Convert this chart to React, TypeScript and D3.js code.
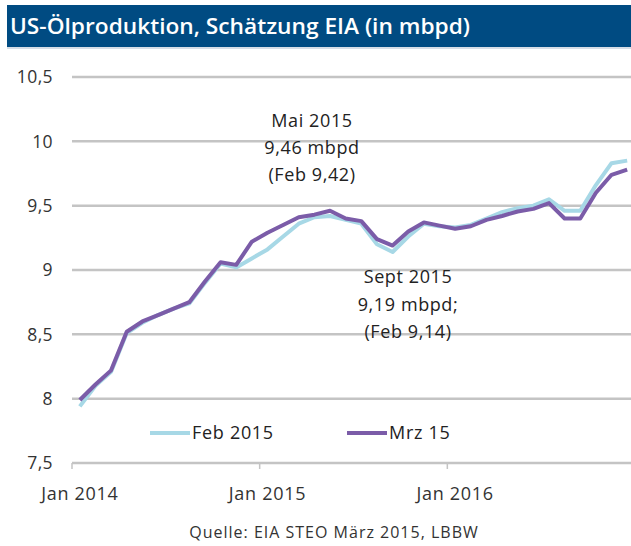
import * as d3 from "d3";

// monthly categories Jan 2014 .. Dec 2016
const months: Date[] = d3.timeMonth.range(new Date(2014, 0, 1), new Date(2017, 0, 1));

// EIA STEO Feb 2015 estimate (mbpd)
const feb2015: number[] = [
  7.94, 8.10, 8.21, 8.51, 8.59, 8.65, 8.70, 8.74, 8.90, 9.05, 9.02, 9.09,
  9.16, 9.26, 9.36, 9.41, 9.42, 9.39, 9.36, 9.20, 9.14, 9.26, 9.36, 9.34,
  9.33, 9.35, 9.40, 9.45, 9.48, 9.50, 9.55, 9.46, 9.46, 9.66, 9.83, 9.85,
];

// EIA STEO Mrz 2015 estimate (mbpd)
const mrz2015: number[] = [
  7.99, 8.11, 8.22, 8.52, 8.60, 8.65, 8.70, 8.75, 8.91, 9.06, 9.04, 9.22,
  9.29, 9.35, 9.41, 9.43, 9.46, 9.40, 9.38, 9.24, 9.19, 9.30, 9.37, 9.345,
  9.32, 9.34, 9.39, 9.42, 9.455, 9.475, 9.52, 9.40, 9.40, 9.60, 9.74, 9.78,
];

const yTicks: number[] = [7.5, 8, 8.5, 9, 9.5, 10, 10.5];
const xTickMonths: number[] = [0, 12, 24];
const xTickLabels: string[] = ["Jan 2014", "Jan 2015", "Jan 2016"];

const seriesNames: string[] = ["Feb 2015", "Mrz 15"];
const seriesColors: string[] = ["#a7d8e6", "#7b5ca8"];

const FONT = "'Open Sans', sans-serif";

export default function App() {
  const width = 631;
  const height = 546;
  const marginLeft = 72;
  const plotRight = 635;
  const yTop = 77;
  const yBottom = 463;

  const x = d3.scaleBand<number>()
    .domain(d3.range(months.length))
    .range([marginLeft, plotRight]);

  const y = d3.scaleLinear([7.5, 10.5], [yBottom, yTop]);

  const line = d3.line<number>()
    .x((_, i) => x(i)! + x.bandwidth() / 2)
    .y(d => y(d));

  const fmt = (v: number) => String(v).replace(".", ",");

  return (
    <svg width={width} height={height} style={{ position: "absolute", left: 0, top: 0 }}
      fontFamily={FONT}>
      <rect x={0} y={0} width={width} height={height} fill="#fff" />

      {/* title bar */}
      <rect x={7} y={5} width={width - 7} height={42} fill="#004b82" />
      <rect x={7} y={47} width={width - 7} height={2} fill="#d6dde6" />
      <text x={10} y={34} fill="#fff" fontSize={21} fontWeight={600}
        textLength={460} lengthAdjust="spacingAndGlyphs">
        US-Ölproduktion, Schätzung EIA (in mbpd)
      </text>

      {/* grid lines */}
      {yTicks.map(t => (
        <g key={t}>
          <line x1={marginLeft} x2={width} y1={y(t)} y2={y(t)} stroke="#c4c4c4" strokeWidth={2.5} />
          <text x={53} y={y(t)} dy="0.36em" textAnchor="end" fontSize={17.5} fill="#333"
            letterSpacing={0.4}>
            {fmt(t)}
          </text>
        </g>
      ))}

      {/* x ticks */}
      {xTickMonths.map((m, i) => (
        <g key={m}>
          <line x1={x(m)!} x2={x(m)!} y1={yBottom} y2={yBottom + 6} stroke="#c4c4c4" strokeWidth={1.5} />
          <text x={x(m)! + x.bandwidth() / 2} y={500} textAnchor="middle" fontSize={18} fill="#333"
            letterSpacing={0.7}>
            {xTickLabels[i]}
          </text>
        </g>
      ))}

      {/* series */}
      <path d={line(feb2015)!} fill="none" stroke={seriesColors[0]} strokeWidth={4} strokeLinejoin="round" />
      <path d={line(mrz2015)!} fill="none" stroke={seriesColors[1]} strokeWidth={4} strokeLinejoin="round" />

      {/* annotations */}
      <g fontSize={18} fill="#222" textAnchor="middle" letterSpacing={0.6}>
        <text x={312} y={127}>Mai 2015</text>
        <text x={312} y={154}>9,46 mbpd</text>
        <text x={312} y={181}>(Feb 9,42)</text>
        <text x={408} y={283}>Sept 2015</text>
        <text x={408} y={311}>9,19 mbpd;</text>
        <text x={408} y={338}>(Feb 9,14)</text>
      </g>

      {/* legend */}
      {seriesNames.map((name, i) => {
        const lx = i === 0 ? 150 : 347;
        return (
          <g key={name}>
            <line x1={lx} x2={lx + 40} y1={433} y2={433} stroke={seriesColors[i]} strokeWidth={4} />
            <text x={lx + 42} y={433} dy="0.36em" fontSize={18} fill="#222" letterSpacing={0.7}>{name}</text>
          </g>
        );
      })}

      {/* source */}
      <text x={334} y={538} textAnchor="middle" fontSize={16} fill="#333" letterSpacing={1}>
        Quelle: EIA STEO März 2015, LBBW
      </text>
    </svg>
  );
}
